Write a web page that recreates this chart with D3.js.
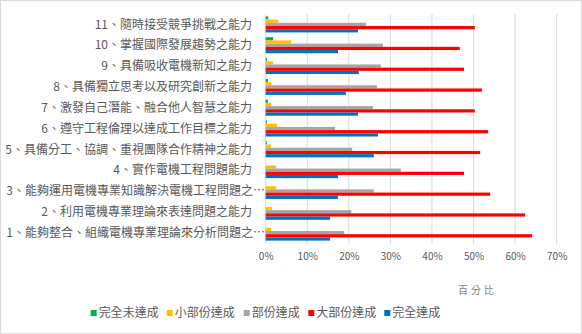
<!DOCTYPE html>
<html>
<head>
<meta charset="utf-8">
<script src="https://cdn.jsdelivr.net/npm/d3@7"></script>
<style>
  html, body { margin: 0; padding: 0; background: #fff; }
  svg { display: block; font-family: "Microsoft JhengHei", "Noto Sans CJK TC", sans-serif; }
</style>
</head>
<body>
<svg id="chart" width="582" height="334"></svg>
<script>
// Abilities, listed from the top row down
const categories = [
  "11、隨時接受競爭挑戰之能力",
  "10、掌握國際發展趨勢之能力",
  "9、具備吸收電機新知之能力",
  "8、具備獨立思考以及研究創新之能力",
  "7、激發自己潛能、融合他人智慧之能力",
  "6、遵守工程倫理以達成工作目標之能力",
  "5、具備分工、協調、重視團隊合作精神之能力",
  "4、實作電機工程問題能力",
  "3、能夠運用電機專業知識解決電機工程問題之…",
  "2、利用電機專業理論來表達問題之能力",
  "1、能夠整合、組織電機專業理論來分析問題之…"
];

const seriesNames = ["完全未達成", "小部份達成", "部份達成", "大部份達成", "完全達成"];
const seriesColors = ["#00B050", "#FFC000", "#A5A5A5", "#FF0000", "#0070C0"];

// Percentages per series, same order as categories
const notAchieved     = [0.6, 1.8, 0.3, 0.55, 0.55, 0.3, 0.3, 0, 0, 0, 0];
const slightlyAchieved = [3.0, 6.1, 1.8, 1.3, 1.3, 2.7, 1.3, 2.5, 2.5, 1.5, 1.3];
const partlyAchieved  = [24.1, 28.2, 27.7, 26.8, 25.8, 16.7, 20.8, 32.5, 26.0, 20.6, 18.9];
const mostlyAchieved  = [50.3, 46.7, 47.7, 52.0, 50.3, 53.5, 51.6, 47.7, 54.0, 62.4, 64.1];
const fullyAchieved   = [22.2, 17.4, 22.4, 19.3, 22.2, 27.0, 26.0, 17.4, 17.4, 15.5, 15.5];

const seriesValues = [notAchieved, slightlyAchieved, partlyAchieved, mostlyAchieved, fullyAchieved];
const xTicks = [0, 10, 20, 30, 40, 50, 60, 70];

const svg = d3.select("#chart");
const W = 582, H = 334;

// Outer frame
svg.append("rect")
  .attr("x", 0.5).attr("y", 0.5)
  .attr("width", W - 1).attr("height", H - 1)
  .attr("fill", "#fff").attr("stroke", "#d9d9d9");

const plot = { left: 265.7, right: 556.7, top: 14, bottom: 243 };

const x = d3.scaleLinear().domain([0, 70]).range([plot.left, plot.right]);
const y = d3.scaleBand().domain(categories).range([plot.top, plot.bottom])
  .paddingInner(0.23).paddingOuter(0.115);
const ySub = d3.scaleBand().domain(d3.range(seriesNames.length)).range([0, y.bandwidth()]);

// Vertical gridlines
svg.append("g")
  .selectAll("line")
  .data(xTicks)
  .join("line")
  .attr("x1", d => x(d)).attr("x2", d => x(d))
  .attr("y1", plot.top).attr("y2", plot.bottom + 1)
  .attr("stroke", "#d9d9d9").attr("stroke-width", 1);

// X axis labels
const xAxis = d3.axisBottom(x).tickValues(xTicks).tickSize(0).tickPadding(0)
  .tickFormat(d => d + "%");
const gx = svg.append("g").attr("transform", `translate(0,${plot.bottom + 10})`).call(xAxis);
gx.select(".domain").remove();
gx.selectAll("text")
  .attr("dy", "0.71em")
  .attr("fill", "#595959")
  .style("font-size", "10px")
  .style("font-family", "'Microsoft JhengHei', 'Noto Sans CJK TC', sans-serif");

// Bars
const groups = svg.append("g").selectAll("g")
  .data(categories)
  .join("g")
  .attr("transform", d => `translate(0,${y(d)})`);

groups.selectAll("rect")
  .data((d, i) => seriesValues.map((vals, s) => ({ s, v: vals[i] })))
  .join("rect")
  .attr("x", x(0))
  .attr("y", d => ySub(d.s))
  .attr("width", d => x(d.v) - x(0))
  .attr("height", ySub.bandwidth())
  .attr("fill", d => seriesColors[d.s]);

// Category labels
svg.append("g").selectAll("text")
  .data(categories)
  .join("text")
  .attr("x", d => d.endsWith("…") ? 265 : 252)
  .attr("y", d => y(d) + y.bandwidth() / 2)
  .attr("dy", "0.35em")
  .attr("text-anchor", "end")
  .attr("fill", "#595959")
  .style("font-size", "12px")
  .text(d => d);

// Axis title
svg.append("text")
  .attr("x", 497).attr("y", 294)
  .attr("text-anchor", "end")
  .attr("fill", "#7f7f7f")
  .style("font-size", "10px")
  .style("letter-spacing", "3px")
  .text("百分比");

// Legend
const legendX = [90.7, 166.7, 243.7, 308.3, 384.3];
const legend = svg.append("g").selectAll("g")
  .data(seriesNames)
  .join("g")
  .attr("transform", (d, i) => `translate(${legendX[i]},313)`);
legend.append("rect")
  .attr("x", 0).attr("y", -3).attr("width", 6).attr("height", 6)
  .attr("fill", (d, i) => seriesColors[i]);
legend.append("text")
  .attr("x", 8).attr("y", 0).attr("dy", "0.35em")
  .attr("fill", "#595959")
  .style("font-size", "12px")
  .text(d => d);
</script>
</body>
</html>
